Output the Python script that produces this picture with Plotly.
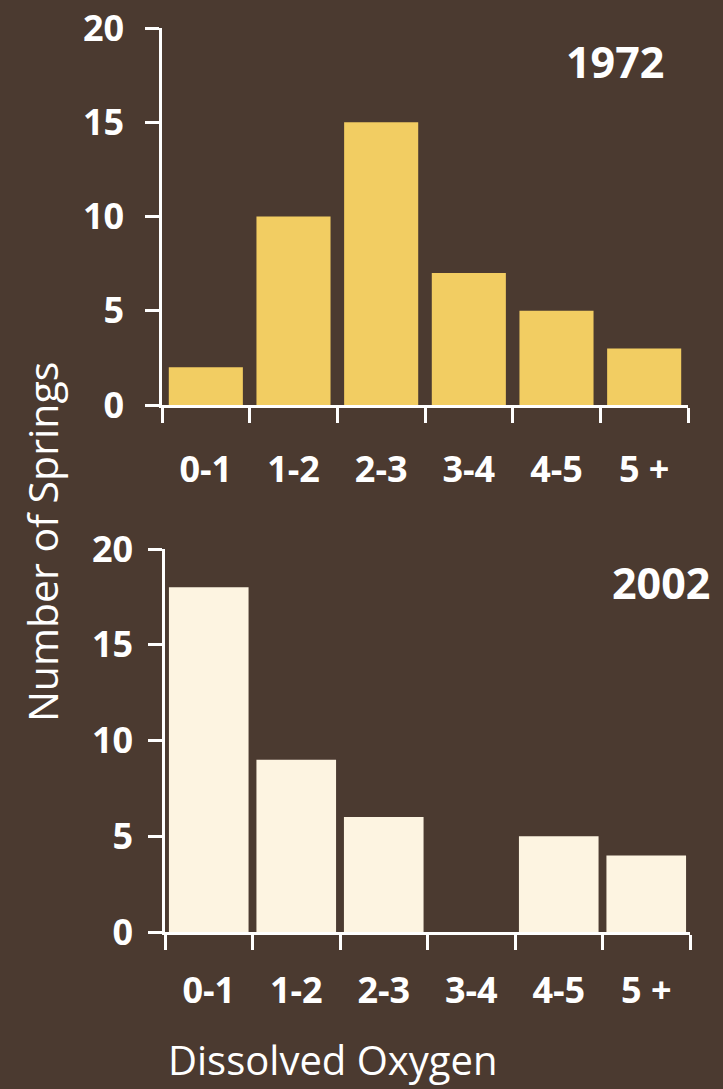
import plotly.graph_objects as go

# Dissolved oxygen bins (mg/L) and spring counts per survey year
categories = ["0-1", "1-2", "2-3", "3-4", "4-5", "5 +"]
springs_1972 = [2, 10, 15, 7, 5, 3]
springs_2002 = [18, 9, 6, 0, 5, 4]
y_ticks = [0, 5, 10, 15, 20]

BG = "#4b3a30"
WHITE = "#ffffff"
FONT = "Open Sans"
W, H = 723, 1089

fig = go.Figure()
fig.add_trace(go.Bar(x=categories, y=springs_1972, marker=dict(color="#f2cd62", line=dict(width=0)),
                     width=0.845, xaxis="x", yaxis="y", showlegend=False))
fig.add_trace(go.Bar(x=categories, y=springs_2002, marker=dict(color="#fdf4e1", line=dict(width=0)),
                     width=0.91, xaxis="x2", yaxis="y2", showlegend=False))

tickfont = dict(family=FONT, size=36, color=WHITE, weight="bold")

def xax(domain, anchor, standoff):
    return dict(domain=domain, anchor=anchor, type="category", range=[-0.5, 5.5],
                showline=True, linecolor=WHITE, linewidth=2.5, ticks="outside",
                tickson="boundaries", ticklen=15, tickwidth=2.5, tickcolor=WHITE,
                tickfont=tickfont, ticklabelstandoff=standoff, showgrid=False, zeroline=False,
                automargin=False, fixedrange=True)

def yax(domain, anchor, standoff):
    return dict(domain=domain, anchor=anchor, range=[0, 20], tickvals=y_ticks,
                showline=True, linecolor=WHITE, linewidth=2.5, ticks="outside",
                ticklen=14, tickwidth=2.5, tickcolor=WHITE, tickfont=tickfont,
                ticklabelstandoff=standoff, showgrid=False, zeroline=False,
                automargin=False, fixedrange=True)

def label(text, x, y, size, bold=False, angle=0):
    font = dict(family=FONT, size=size, color=WHITE)
    if bold:
        font["weight"] = "bold"
    return dict(text=text, x=x / W, y=1 - y / H, xref="paper", yref="paper",
                xanchor="center", yanchor="middle", showarrow=False,
                textangle=angle, font=font)

fig.update_layout(
    width=W, height=H,
    margin=dict(l=0, r=0, t=0, b=0, autoexpand=False),
    paper_bgcolor=BG, plot_bgcolor=BG,
    xaxis=xax([162 / W, 688 / W], "y", 31),
    yaxis=yax([1 - 405 / H, 1 - 28 / H], "x", 14),
    xaxis2=xax([165 / W, 690 / W], "y2", 25),
    yaxis2=yax([1 - 932 / H, 1 - 549 / H], "x2", 8),
    annotations=[
        label("1972", 615, 62, 43, bold=True),
        label("2002", 661, 582, 43, bold=True),
        label("Number of Springs", 42, 542, 41, angle=-90),
        label("Dissolved Oxygen", 333, 1059, 40),
    ],
)

fig.write_html("out.html", config=dict(displayModeBar=False))
